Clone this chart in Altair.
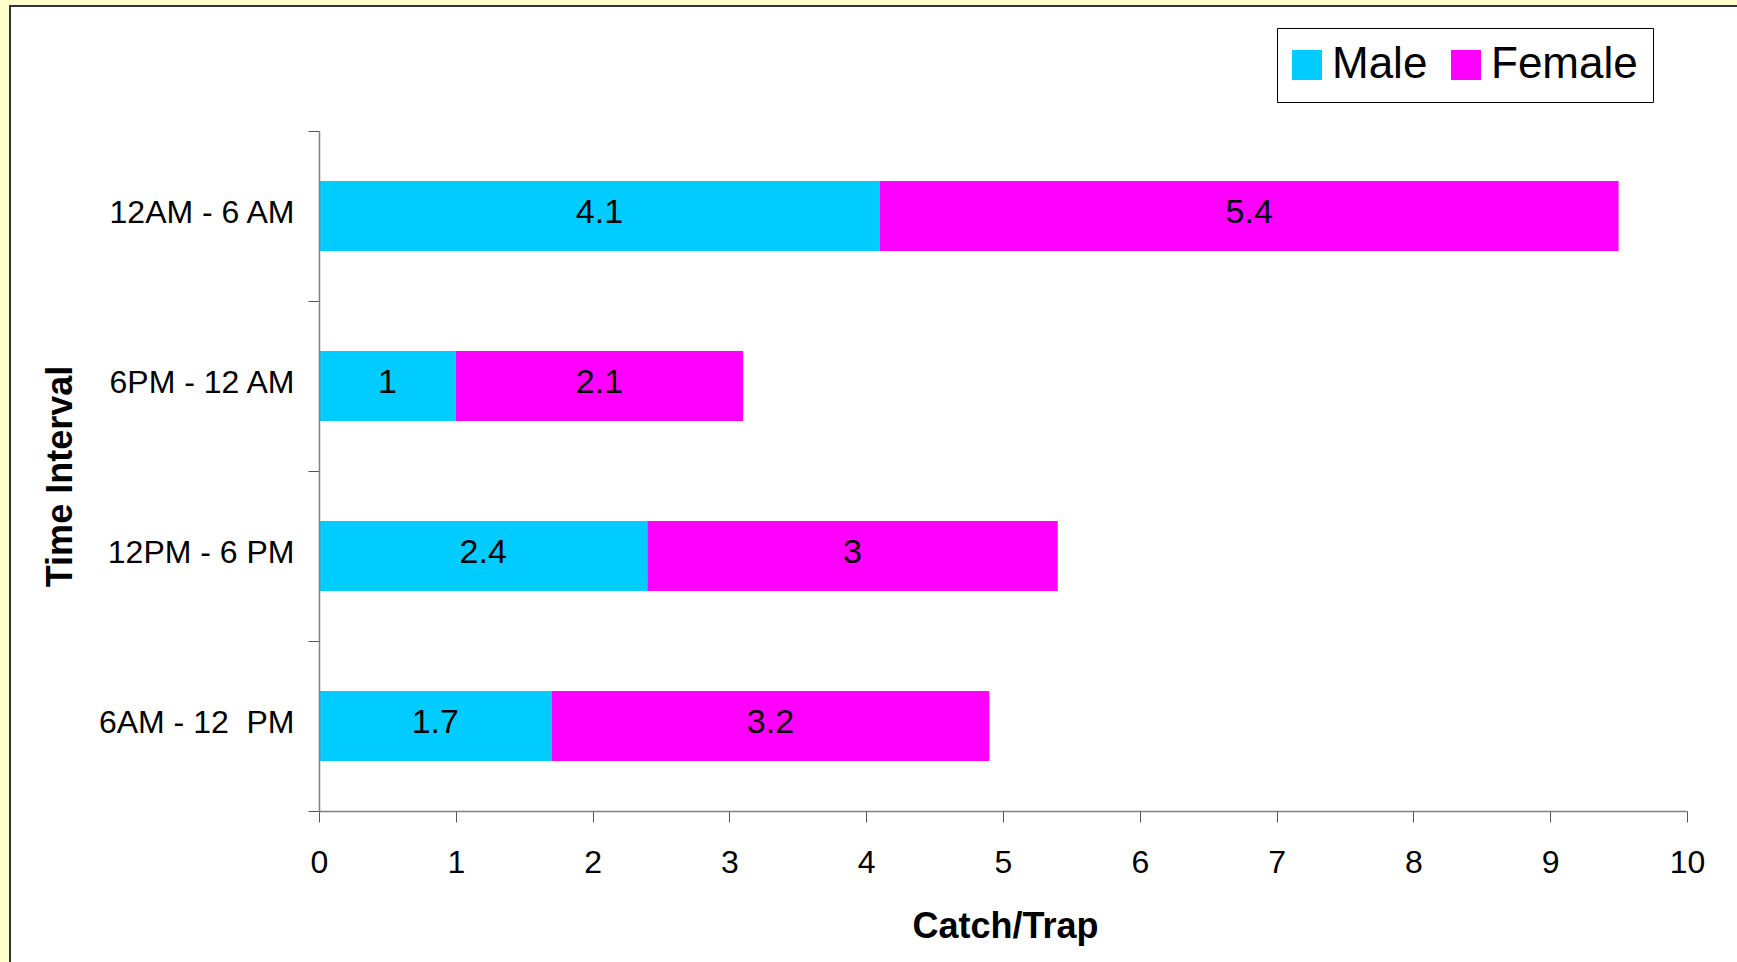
import altair as alt
import pandas as pd

# Catch per trap by time interval and sex
intervals = ["12AM - 6 AM", "6PM - 12 AM", "12PM - 6 PM", "6AM - 12\u00a0 PM"]
male = [4.1, 1, 2.4, 1.7]
female = [5.4, 2.1, 3, 3.2]
sexes = ["Male", "Female"]
colors = ["#00CCFF", "#FF00FF"]
x_ticks = [0, 1, 2, 3, 4, 5, 6, 7, 8, 9, 10]

rows = []
for i, name in enumerate(intervals):
    rows.append({"interval": name, "sex": "Male", "order": 0, "value": male[i]})
    rows.append({"interval": name, "sex": "Female", "order": 1, "value": female[i]})
df = pd.DataFrame(rows)

FONT = "Liberation Sans"
PLOT_W, PLOT_H = 1368, 680
PAD_L, PAD_T = 319, 131

# white panel with a dark border over the pale yellow page
frame = alt.Chart(pd.DataFrame({"k": [0]})).mark_rect(
    fill="white", stroke="#333333", strokeWidth=2
).encode(
    x=alt.value(10 - PAD_L), x2=alt.value(PLOT_W + 200),
    y=alt.value(6 - PAD_T), y2=alt.value(PLOT_H + 200),
)

base = alt.Chart(df).transform_stack(
    stack="value", groupby=["interval"], as_=["x0", "x1"],
    sort=[alt.SortField("order", order="ascending")],
).transform_calculate(mid="(datum.x0 + datum.x1) / 2")

y_enc = alt.Y(
    "interval:N", sort=intervals,
    scale=alt.Scale(paddingInner=0, paddingOuter=0),
    axis=alt.Axis(
        title="Time Interval", titleFont=FONT, titleFontSize=36, titleFontWeight="bold",
        titleColor="black", titleAngle=270, titleBaseline="alphabetic",
        titleX=71 - PAD_L, titleY=345, titleAlign="center",
        labelFont=FONT, labelFontSize=32, labelColor="black", labelPadding=14,
        labelOffset=-4, tickBand="extent", tickSize=11, tickColor="#555555",
        domainColor="#808080", domainWidth=1.5, labelLimit=400, zindex=1,
    ),
)

bars = base.mark_bar(size=70).encode(
    x=alt.X(
        "x0:Q",
        scale=alt.Scale(domain=[0, 10], nice=False),
        axis=alt.Axis(
            values=x_ticks, format="~g", title="Catch/Trap", titleFont=FONT,
            titleFontSize=36, titleFontWeight="bold", titleColor="black",
            titleBaseline="alphabetic", titleX=686, titleY=126, grid=False,
            labelFont=FONT, labelFontSize=32, labelColor="black",
            labelBaseline="alphabetic", labelPadding=50, labelFlush=False,
            tickSize=11, tickColor="#555555", domainColor="#808080", domainWidth=1.5,
            zindex=1,
        ),
    ),
    x2="x1:Q",
    y=y_enc,
    color=alt.Color(
        "sex:N", sort=sexes,
        scale=alt.Scale(domain=sexes, range=colors),
        legend=alt.Legend(
            title=None, orient="none", legendX=958, legendY=-103,
            direction="horizontal", symbolType="square", symbolSize=900,
            symbolStrokeWidth=0, symbolOpacity=1, symbolOffset=-7,
            labelFont=FONT, labelFontSize=44, labelColor="black", labelOffset=3,
            columnPadding=23, padding=15, strokeColor="black", fillColor="white",
            labelLimit=300,
        ),
    ),
)

labels = base.mark_text(font=FONT, fontSize=34, color="black", dy=-3).encode(
    x="mid:Q",
    y=alt.Y("interval:N", sort=intervals),
    text=alt.Text("value:Q"),
)

chart = alt.layer(frame, bars, labels).properties(
    width=PLOT_W, height=PLOT_H,
    autosize=alt.AutoSizeParams(type="none"),
    padding={"left": PAD_L, "top": PAD_T, "right": 1737 - PAD_L - PLOT_W,
             "bottom": 962 - PAD_T - PLOT_H},
    background="#FFFFCC",
).configure_view(stroke=None)

chart.save("out.html", embed_options={"renderer": "svg", "actions": False})
